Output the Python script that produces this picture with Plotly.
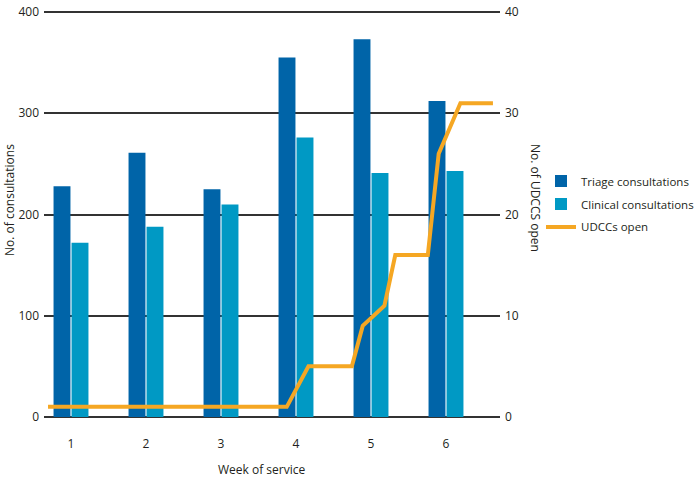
import plotly.graph_objects as go

weeks = [1, 2, 3, 4, 5, 6]
week_labels = ["1", "2", "3", "4", "5", "6"]
triage = [228, 261, 225, 355, 373, 312]
clinical = [172, 188, 210, 276, 241, 243]

# UDCCs open, read by day of service (day 0 = first day)
udcc_days = [0, 22, 24, 28, 29, 31, 32, 35, 36, 38, 41]
udcc_open = [1, 1, 5, 5, 9, 11, 16, 16, 26, 31, 31]

FONT = "Open Sans, sans-serif"
FS = 12
TXT = "#231f20"

# plot area: left 44, right 500, 400 at y=12, 0 at y=417 (small pad so edge gridlines show)
PAD = 2  # units of the left axis
PX = 405 / 400
T = 12 - PAD * PX
B = 479 - 417 - PAD * PX
H = 479 - T - B


def yp(pix):
    return (479 - B - pix) / H


def xp(pix):
    return (pix - 44) / 456


fig = go.Figure()
fig.add_trace(go.Bar(x=weeks, y=triage, name="Triage consultations",
                     marker=dict(color="#0064a8", line=dict(width=0)),
                     legend="legend"))
fig.add_trace(go.Bar(x=weeks, y=clinical, name="Clinical consultations",
                     marker=dict(color="#0099c4", line=dict(width=0)),
                     legend="legend2"))
fig.add_trace(go.Scatter(x=udcc_days, y=udcc_open, name="UDCCs open",
                         mode="lines", xaxis="x2", yaxis="y2",
                         line=dict(color="#f5a723", width=4),
                         legend="legend3"))


def leg(ypix):
    return dict(x=xp(541), xanchor="left", y=yp(ypix), yanchor="middle",
                font=dict(family=FONT, size=11.5, color=TXT), tracegroupgap=0,
                itemwidth=30, bgcolor="rgba(0,0,0,0)", borderwidth=0)


fig.update_layout(
    width=698, height=479,
    margin=dict(l=44, r=198, t=T, b=B, autoexpand=False),
    paper_bgcolor="white", plot_bgcolor="white",
    font=dict(family=FONT, size=FS, color=TXT),
    barmode="group", bargap=0.52, bargroupgap=0.06,
    showlegend=True,
    legend=leg(181), legend2=leg(204), legend3=leg(227),
    xaxis=dict(range=[0.64, 6.72], tickvals=weeks, ticktext=week_labels,
               showgrid=False, zeroline=False, showline=False,
               ticks="", ticklabelstandoff=16),
    xaxis2=dict(range=[-0.37, 41.65], overlaying="x", visible=False),
    yaxis=dict(range=[-PAD, 400 + PAD], tickvals=[0, 100, 200, 300, 400],
               showgrid=True, gridcolor="#333333", gridwidth=1.5,
               zeroline=False, showline=False, ticks="",
               ticklabelstandoff=4),
    yaxis2=dict(range=[-PAD / 10, 40 + PAD / 10], tickvals=[0, 10, 20, 30, 40],
                overlaying="y", side="right", showgrid=False, zeroline=False,
                showline=False, ticks="", ticklabelstandoff=4),
    annotations=[
        dict(text="Week of service", xref="paper", yref="paper",
             x=xp(261), y=yp(470), showarrow=False,
             xanchor="center", yanchor="middle", font=dict(size=FS)),
        dict(text="No. of consultations", xref="paper", yref="paper",
             x=xp(9), y=yp(200), showarrow=False,
             textangle=-90, xanchor="center", yanchor="middle",
             font=dict(size=FS)),
        dict(text="No. of UDCCS open", xref="paper", yref="paper",
             x=xp(536), y=yp(198), showarrow=False,
             textangle=90, xanchor="center", yanchor="middle",
             font=dict(size=FS)),
    ],
)

fig.write_html("out.html", config={"displayModeBar": False},
               post_script="document.body.style.margin='0';")
